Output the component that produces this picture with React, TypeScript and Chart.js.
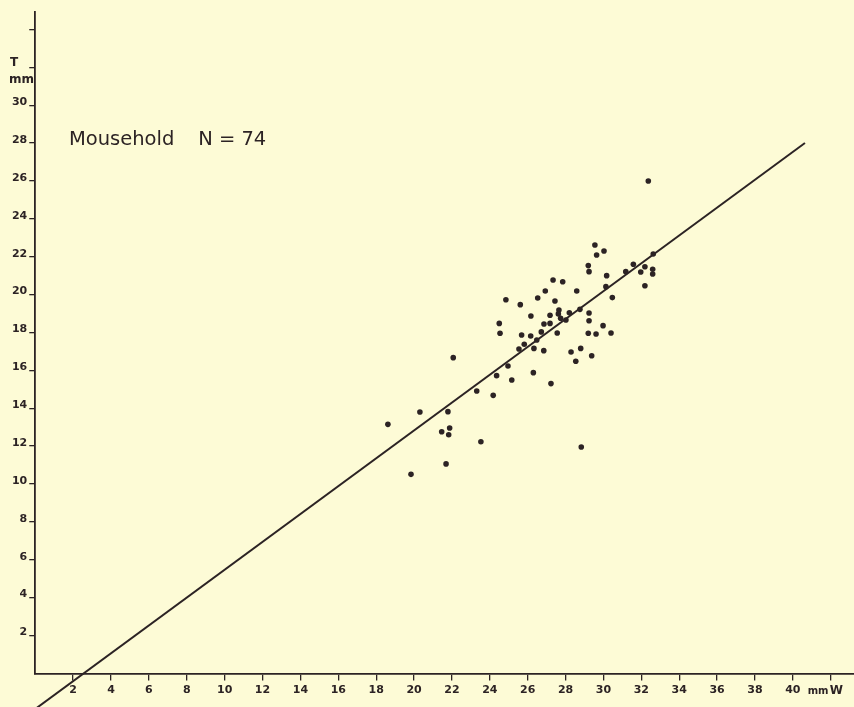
import React, { useEffect, useRef } from "react";
import { Chart, registerables } from "chart.js";

Chart.register(...registerables);

// Width W (mm) of each specimen
const wValues = [
  29.55, 29.64, 30.03, 29.2, 29.24, 32.63, 31.58, 31.18, 31.97, 32.19,
  32.6, 32.6, 32.19, 30.17, 30.13, 30.47, 28.59, 27.34, 27.85, 26.93,
  26.53, 27.44, 24.85, 25.61, 27.65, 27.62, 27.18, 28.2, 28.76, 29.24,
  26.17, 27.74, 28.02, 27.18, 26.86, 24.5, 24.54, 25.68, 26.16, 26.72,
  26.48, 27.56, 29.24, 29.2, 29.61, 29.98, 30.4, 25.82, 25.54, 26.33,
  26.85, 28.29, 28.8, 28.54, 29.38, 24.96, 24.36, 25.16, 26.3, 27.23,
  23.31, 24.18, 22.07, 20.31, 21.79, 18.62, 21.46, 21.88, 21.83, 23.53,
  21.69, 19.84, 28.83, 32.37,
];
// Thickness T (mm) of each specimen
const tValues = [
  22.62, 22.09, 22.3, 21.53, 21.21, 22.14, 21.6, 21.21, 21.19, 21.47,
  21.34, 21.09, 20.47, 21.0, 20.42, 19.84, 20.19, 20.77, 20.68, 20.19,
  19.82, 19.66, 19.73, 19.47, 19.19, 18.98, 18.91, 19.04, 19.22, 19.03,
  18.87, 18.75, 18.66, 18.48, 18.45, 18.48, 17.96, 17.87, 17.81, 18.03,
  17.6, 17.97, 18.62, 17.96, 17.92, 18.36, 17.97, 17.38, 17.13, 17.16,
  17.04, 16.97, 17.16, 16.48, 16.77, 16.23, 15.72, 15.49, 15.88, 15.3,
  14.91, 14.68, 16.67, 13.8, 13.82, 13.15, 12.76, 12.96, 12.6, 12.23,
  11.06, 10.51, 11.95, 26.0,
];
// Fitted line end points
const lineW = [0, 40.64];
const lineT = [-1.88, 28.0];

const xTickValues = [2, 4, 6, 8, 10, 12, 14, 16, 18, 20, 22, 24, 26, 28, 30, 32, 34, 36, 38, 40, 42];
const yTickValues = [2, 4, 6, 8, 10, 12, 14, 16, 18, 20, 22, 24, 26, 28, 30, 32, 34];
const xLabeled = [2, 4, 6, 8, 10, 12, 14, 16, 18, 20, 22, 24, 26, 28, 30, 32, 34, 36, 38, 40];
const yLabeled = [2, 4, 6, 8, 10, 12, 14, 16, 18, 20, 22, 24, 26, 28, 30];

const titleText = "Mousehold";
const nText = "N = 74";
const yUnitTop = "T";
const yUnitBottom = "mm";
const xUnit = "mm";
const xName = "W";

const BG = "#fdfbd6";
const INK = "#2c2324";
const W = 854;
const H = 707;

export default function App() {
  const ref = useRef<HTMLCanvasElement | null>(null);

  useEffect(() => {
    const canvas = ref.current;
    if (!canvas) return;

    const textPlugin = {
      id: "texts",
      beforeDraw(chart: any) {
        const ctx = chart.ctx;
        ctx.save();
        ctx.fillStyle = BG;
        ctx.fillRect(0, 0, chart.width, chart.height);
        ctx.restore();
      },
      afterDraw(chart: any) {
        const ctx = chart.ctx;
        const xs = chart.scales.x;
        const ys = chart.scales.y;
        ctx.save();
        ctx.fillStyle = INK;
        ctx.textBaseline = "middle";
        ctx.textAlign = "left";
        // annotation
        ctx.font = "19.5px 'DejaVu Sans'";
        const ty = ys.getPixelForValue(28.15);
        ctx.fillText(titleText, xs.getPixelForValue(1.78), ty);
        ctx.fillText(nText, xs.getPixelForValue(8.6), ty);
        // y unit
        const y32 = ys.getPixelForValue(32);
        ctx.font = "bold 12px 'DejaVu Sans'";
        ctx.fillText(yUnitTop, 10, y32 - 4.5);
        ctx.fillText(yUnitBottom, 9, y32 + 12.5);
        // x unit
        const x42 = xs.getPixelForValue(42);
        const ly = xs.top + 17;
        ctx.font = "bold 10px 'DejaVu Sans'";
        ctx.fillText(xUnit, x42 - 23, ly + 1);
        ctx.font = "bold 12px 'DejaVu Sans'";
        ctx.fillText(xName, x42 - 1, ly);
        ctx.restore();
      },
    };

    const chart = new Chart(canvas, {
      type: "scatter",
      data: {
        datasets: [
          {
            data: wValues.map((w, i) => ({ x: w, y: tValues[i] })),
            pointRadius: 2.8,
            pointBackgroundColor: INK,
            pointBorderWidth: 0,
            showLine: false,
          },
          {
            data: lineW.map((w, i) => ({ x: w, y: lineT[i] })),
            showLine: true,
            borderColor: INK,
            borderWidth: 2,
            pointRadius: 0,
            clip: false as any,
          },
        ],
      },
      options: {
        animation: false,
        responsive: false,
        devicePixelRatio: 1,
        layout: { autoPadding: false, padding: { top: 12, left: 0, right: 0, bottom: 0 } },
        plugins: { legend: { display: false }, tooltip: { enabled: false } },
        scales: {
          x: {
            type: "linear",
            position: "bottom",
            min: 0,
            max: 43.23,
            border: { color: INK, width: 1.8 },
            grid: { drawOnChartArea: false, drawTicks: true, tickLength: 7, color: INK, lineWidth: 1.3 },
            ticks: {
              autoSkip: false,
              maxRotation: 0,
              padding: 3,
              color: INK,
              font: { family: "'DejaVu Sans'", weight: "bold", size: 11 },
              callback: (v: any) => (xLabeled.includes(v) ? String(v) : ""),
            },
            afterBuildTicks: (s: any) => {
              s.ticks = xTickValues.map((v) => ({ value: v }));
            },
            afterFit: (s: any) => {
              s.height = 33.6;
              s.paddingRight = 0;
              s.paddingLeft = 0;
            },
          },
          y: {
            type: "linear",
            position: "left",
            min: 0,
            max: 34.92,
            border: { color: INK, width: 1.8 },
            grid: { drawOnChartArea: false, drawTicks: true, tickLength: 6, color: INK, lineWidth: 1.3 },
            ticks: {
              autoSkip: false,
              padding: 2,
              labelOffset: -3,
              color: INK,
              font: { family: "'DejaVu Sans'", weight: "bold", size: 11 },
              callback: (v: any) => (yLabeled.includes(v) ? String(v) : ""),
            },
            afterBuildTicks: (s: any) => {
              s.ticks = yTickValues.map((v) => ({ value: v }));
            },
            afterFit: (s: any) => {
              s.width = 35.25;
              s.paddingTop = 0;
              s.paddingBottom = 0;
            },
          },
        },
      },
      plugins: [textPlugin],
    } as any);

    return () => chart.destroy();
  }, []);

  return (
    <div style={{ position: "absolute", left: 0, top: 0, width: W, height: H, background: BG, overflow: "hidden" }}>
      <canvas ref={ref} width={W} height={H} style={{ display: "block", width: W, height: H }} />
    </div>
  );
}
